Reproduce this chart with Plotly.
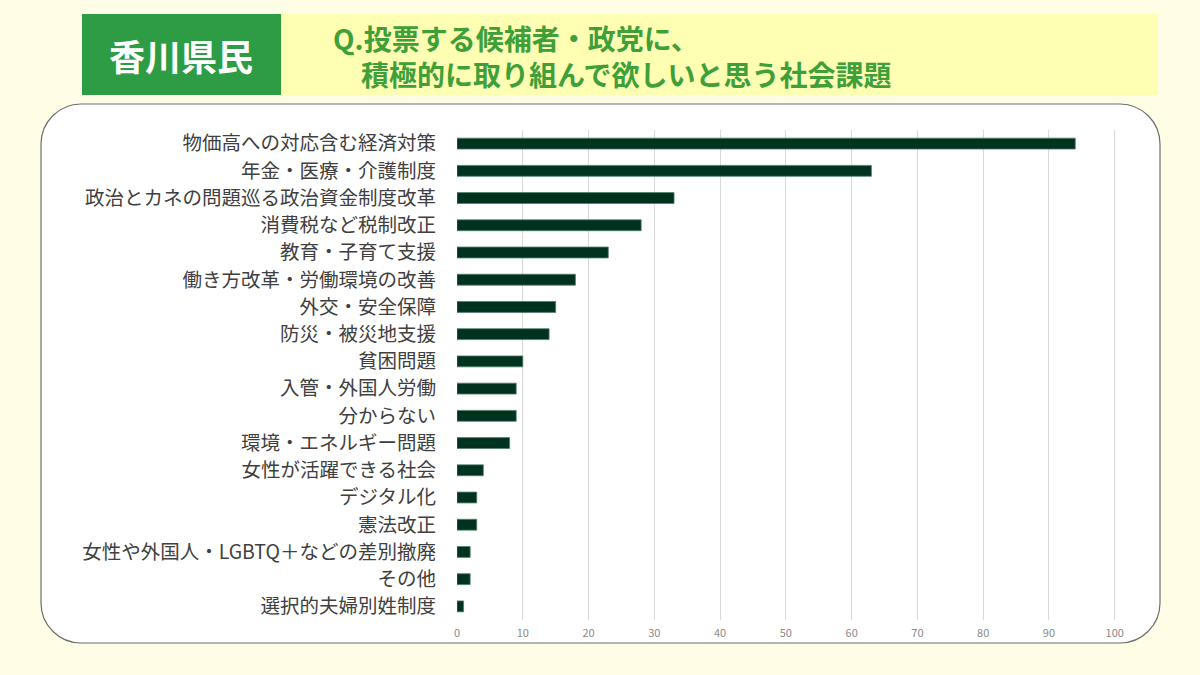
import plotly.graph_objects as go

categories = [
    "物価高への対応含む経済対策",
    "年金・医療・介護制度",
    "政治とカネの問題巡る政治資金制度改革",
    "消費税など税制改正",
    "教育・子育て支援",
    "働き方改革・労働環境の改善",
    "外交・安全保障",
    "防災・被災地支援",
    "貧困問題",
    "入管・外国人労働",
    "分からない",
    "環境・エネルギー問題",
    "女性が活躍できる社会",
    "デジタル化",
    "憲法改正",
    "女性や外国人・LGBTQ＋などの差別撤廃",
    "その他",
    "選択的夫婦別姓制度",
]
values = [94, 63, 33, 28, 23, 18, 15, 14, 10, 9, 9, 8, 4, 3, 3, 2, 2, 1]
tick_vals = [0, 10, 20, 30, 40, 50, 60, 70, 80, 90, 100]

W, H = 1200, 675
L, R, T, B = 457, 1118, 130, 620  # plot area in pixels


def px(x):
    return (x - L) / (R - L)


def py(y):
    return (B - y) / (B - T)


fig = go.Figure(
    go.Bar(
        x=values,
        y=categories,
        orientation="h",
        width=0.4,
        marker=dict(color="#003220", line=dict(color="#4f7d64", width=0.8)),
        hoverinfo="x+y",
    )
)

shapes = []
shapes.append(dict(type="rect", xref="paper", yref="paper",
                   x0=px(82), x1=px(281), y0=py(95), y1=py(14),
                   fillcolor="#2E9B45", line=dict(width=0), layer="below"))
shapes.append(dict(type="rect", xref="paper", yref="paper",
                   x0=px(281), x1=px(1158), y0=py(95), y1=py(14),
                   fillcolor="#FFFFB3", line=dict(width=0), layer="below"))

x0, x1, y0, y1, r = 41, 1160, 104, 643, 40
k = 0.45


def P(x, y):
    return f"{px(x):.5f},{py(y):.5f}"


path = (
    f"M {P(x0 + r, y0)} L {P(x1 - r, y0)} "
    f"C {P(x1 - r * k, y0)} {P(x1, y0 + r * k)} {P(x1, y0 + r)} "
    f"L {P(x1, y1 - r)} "
    f"C {P(x1, y1 - r * k)} {P(x1 - r * k, y1)} {P(x1 - r, y1)} "
    f"L {P(x0 + r, y1)} "
    f"C {P(x0 + r * k, y1)} {P(x0, y1 - r * k)} {P(x0, y1 - r)} "
    f"L {P(x0, y0 + r)} "
    f"C {P(x0, y0 + r * k)} {P(x0 + r * k, y0)} {P(x0 + r, y0)} Z"
)
shapes.append(dict(type="path", xref="paper", yref="paper", path=path,
                   fillcolor="white", line=dict(color="#6e6e6e", width=1.2),
                   layer="below"))

annotations = [
    dict(text="<b>香川県民</b>", xref="paper", yref="paper",
         x=px(181), y=py(55), xanchor="center", yanchor="middle",
         showarrow=False, font=dict(size=36, color="white",
                                    family="Noto Sans CJK JP")),
    dict(text="<b>Q.投票する候補者・政党に、<br>　積極的に取り組んで欲しいと思う社会課題</b>",
         xref="paper", yref="paper", align="left",
         x=px(331), y=py(56), xanchor="left", yanchor="middle",
         showarrow=False, font=dict(size=28, color="#3FA03A",
                                    family="Noto Sans CJK JP")),
]

fig.update_layout(
    width=W, height=H,
    margin=dict(l=L, r=W - R, t=T, b=H - B, pad=0),
    paper_bgcolor="#FFFDE6",
    plot_bgcolor="rgba(0,0,0,0)",
    shapes=shapes,
    annotations=annotations,
    showlegend=False,
    xaxis=dict(
        range=[0, 100.5], tickvals=tick_vals, showgrid=True,
        gridcolor="#d9d9d9", gridwidth=1, zeroline=False,
        showline=False, ticks="", ticklabelstandoff=5,
        tickfont=dict(size=11, color="#8a8a8a", family="Noto Sans CJK JP"),
    ),
    yaxis=dict(
        autorange="reversed", showgrid=False, zeroline=False,
        showline=False, ticks="", ticklabelstandoff=20,
        tickfont=dict(size=19.5, color="#404040", family="Noto Sans CJK JP"),
    ),
    font=dict(family="Noto Sans CJK JP"),
)

fig.write_html(
    "out.html",
    config={"displayModeBar": False},
    post_script="document.body.style.margin='0';document.body.style.background='#FFFDE6';",
)
